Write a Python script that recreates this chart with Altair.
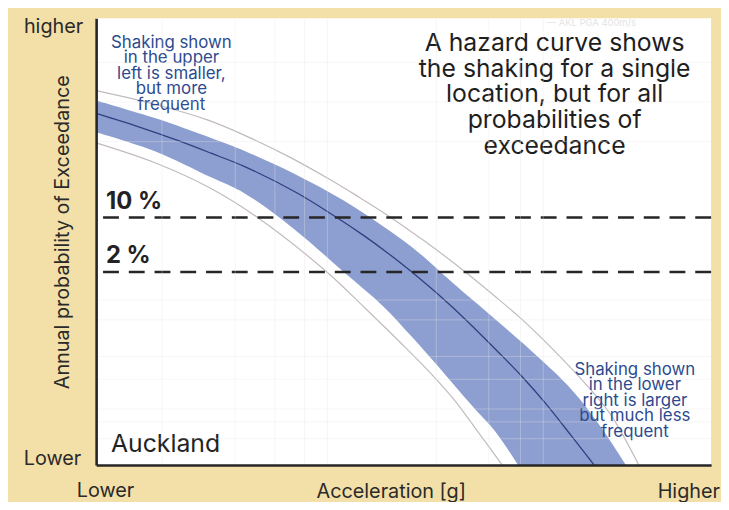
import altair as alt
import pandas as pd

# ---- data (x: 0 = lower .. 100 = higher acceleration,
#      y: 0 = lower .. 100 = higher annual probability of exceedance;
#      values below 0 continue the band edge past the axis and are clipped) ----
band_x   = [0.0, 9.66, 18.68, 24.15, 32.21, 40.26, 46.70, 51.53, 57.65, 61.67, 64.90, 68.60, 71.82, 77.29, 82.13, 86.15]
band_top = [81.6, 77.6, 73.2, 70.3, 65.2, 59.2, 53.4, 48.6, 41.2, 36.4, 32.6, 28.2, 24.2, 16.9, 8.4, 0.0]
band_bot = [74.5, 70.2, 64.4, 60.8, 52.8, 43.2, 35.5, 28.4, 18.8, 12.4, 7.5, 0.0, -7.0, -19.0, -30.0, -40.0]

mean_x = [0.0, 6.92, 13.37, 18.68, 24.15, 32.69, 39.13, 43.48, 47.18, 50.89, 57.33, 61.67, 65.38,
          69.24, 72.95, 77.29, 80.97]
mean_y = [78.7, 75.7, 72.6, 69.8, 66.8, 60.9, 55.4, 51.4, 47.7, 43.7, 36.1, 30.4, 25.3,
          19.8, 14.0, 6.5, 0.0]

upper_x = [0.0, 9.66, 18.2, 24.15, 31.08, 37.52, 42.35, 47.18, 53.62, 59.58, 64.9, 69.24, 74.56, 79.87, 83.74, 88.24]
upper_y = [83.8, 80.7, 77.2, 73.8, 69.2, 64.3, 60.3, 56.1, 49.9, 43.7, 37.7, 32.6, 25.5, 17.7, 11.1, 0.0]

lower_x = [0.0, 9.66, 18.68, 26.25, 37.52, 43.96, 49.92, 54.75, 58.45, 61.67, 66.02]
lower_y = [72.1, 67.6, 61.9, 55.4, 43.2, 34.8, 26.8, 20.0, 14.2, 8.2, 0.0]

level_labels = ["10 %", "2 %"]
level_y = [55.4, 43.2]

grid_x = [10.6, 17.4, 22.5, 25.8, 29.0, 31.6, 33.8, 35.6, 37.5, 48.8, 55.2, 60.1, 63.8, 66.5, 68.9, 70.9, 72.6, 97.1]
grid_y = [90.2, 81.4, 72.5, 37.0, 32.6, 24.4, 19.3, 12.6, 9.8, 6.0]

title_lines = ["A hazard curve shows", "the shaking for a single", "location, but for all",
               "probabilities of", "exceedance"]
upper_note = ["Shaking shown", "in the upper", "left is smaller,", "but more", "frequent"]
lower_note = ["Shaking shown", "in the lower", "right is larger", "but much less", "frequent"]

FONT = "Inter"
BLUE_TXT = "#2c4a8e"
DARK = "#222222"
AXIS_TXT = "#2a2a2a"

band_df = pd.DataFrame({"x": band_x, "top": band_top, "bot": band_bot})
mean_df = pd.DataFrame({"x": mean_x, "y": mean_y})
upper_df = pd.DataFrame({"x": upper_x, "y": upper_y})
lower_df = pd.DataFrame({"x": lower_x, "y": lower_y})
level_df = pd.DataFrame({"label": level_labels, "y": level_y})

xscale = alt.Scale(domain=[0, 100], nice=False, zero=False)
yscale = alt.Scale(domain=[0, 100], nice=False, zero=False)

axis_style = dict(title=None, labels=False, ticks=False, domainColor="#262626", domainWidth=2.6,
                  grid=True, gridColor="#e4e4e4", gridOpacity=0.35, gridWidth=1, zindex=1)
xaxis = alt.Axis(values=grid_x, **axis_style)
yaxis = alt.Axis(values=grid_y, **axis_style)

one = alt.Data(values=[{}])

panel = alt.Chart(one).mark_rect(color="white").encode(
    x=alt.value(0), x2=alt.value("width"), y=alt.value(0), y2=alt.value("height"))

band = alt.Chart(band_df).mark_area(color="#7087c4", opacity=0.8, interpolate="catmull-rom",
                                    clip=True).encode(
    x=alt.X("x:Q", scale=xscale, axis=xaxis),
    y=alt.Y("top:Q", scale=yscale, axis=yaxis),
    y2="bot:Q",
)

upper = alt.Chart(upper_df).mark_line(color="#c2babe", strokeWidth=1.2, interpolate="catmull-rom",
                                      clip=True).encode(x="x:Q", y="y:Q")
lower = alt.Chart(lower_df).mark_line(color="#c2babe", strokeWidth=1.2, interpolate="catmull-rom",
                                      clip=True).encode(x="x:Q", y="y:Q")
mean = alt.Chart(mean_df).mark_line(color="#2f3f80", strokeWidth=1.3, interpolate="catmull-rom",
                                    clip=True).encode(x="x:Q", y="y:Q")

levels = alt.Chart(level_df).mark_rule(color="#262626", strokeWidth=2.6, strokeDash=[16, 10]).encode(
    y="y:Q")
level_text = alt.Chart(level_df).mark_text(
    align="left", baseline="alphabetic", x=10, dy=-9, font=FONT, fontSize=24, fontWeight="bold",
    color=DARK).encode(y="y:Q", text="label:N")


def label(text, x, y, **kw):
    return alt.Chart(one).mark_text(x=x, y=y, font=FONT, **kw).encode(text=alt.value(text))


texts = [
    label("higher", -13, 15, align="right", baseline="alphabetic", fontSize=20, color=AXIS_TXT),
    label("Lower", -15, 451, align="right", baseline="alphabetic", fontSize=20, color=AXIS_TXT),
    label("Lower", 9.5, 483, align="center", baseline="alphabetic", fontSize=20, color=AXIS_TXT),
    label("Higher", 630, 484, align="right", baseline="alphabetic", fontSize=20, color=AXIS_TXT),
    label("Acceleration [g]", 298, 484, align="center", baseline="alphabetic", fontSize=20,
          color=AXIS_TXT),
    label("Annual probability of Exceedance", -27, 216, align="center", baseline="alphabetic",
          angle=270, fontSize=20, color=AXIS_TXT),
    label("Auckland", 15, 438, align="left", baseline="alphabetic", fontSize=25, color=DARK),
    label(title_lines, 463, 33, align="center", baseline="alphabetic", fontSize=25, lineHeight=26,
          color="#1e1e1e"),
    label(upper_note, 76, 30, align="center", baseline="alphabetic", fontSize=17, lineHeight=15.6,
          color=BLUE_TXT),
    label(lower_note, 544, 360, align="center", baseline="alphabetic", fontSize=17, lineHeight=15.6,
          color=BLUE_TXT),
    label("\u2014 AKL PGA 400m/s", 455, 8, align="left", baseline="alphabetic", fontSize=9.5,
          color="#e4e4e4"),
]

chart = alt.layer(panel, band, upper, lower, mean, levels, level_text, *texts).properties(
    width=621,
    height=451,
    autosize="none",
    padding={"left": 89, "top": 8, "right": 10, "bottom": 35},
    background="#F3DFA8",
).configure_view(strokeWidth=0)

chart.save("out.html", embed_options={"renderer": "svg", "actions": False})
